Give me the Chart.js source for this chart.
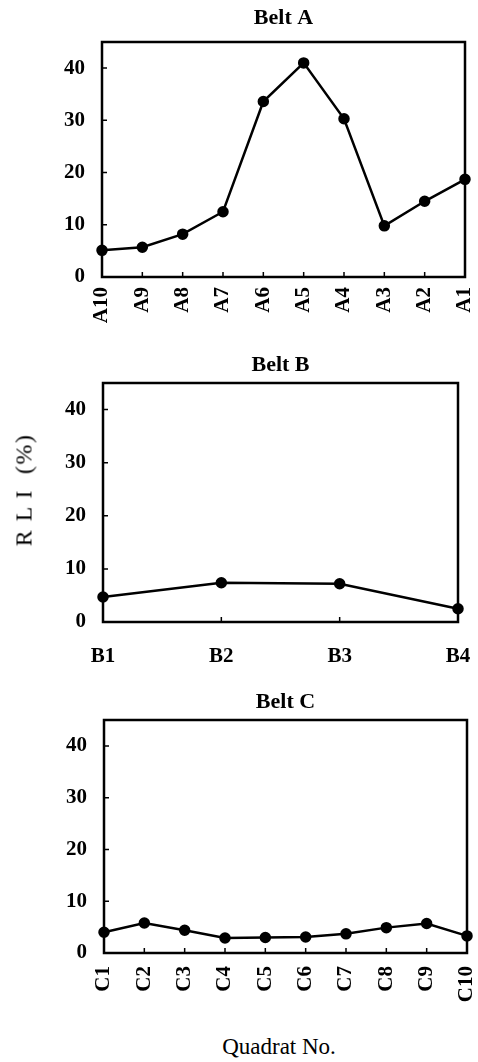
<!DOCTYPE html>
<html>
<head>
<meta charset="utf-8">
<script src="https://cdn.jsdelivr.net/npm/chart.js@4.4.0/dist/chart.umd.min.js"></script>
<style>
    body { margin: 0; background: #fff; width: 478px; height: 1062px; position: relative; overflow: hidden; }
    .panel { position: absolute; left: 0; width: 478px; }
    #yTitle {
        position: absolute; left: 24px; top: 490px;
        transform: translate(-50%, -50%) rotate(-90deg);
        font: 24px "Liberation Serif", serif; letter-spacing: 1.5px; white-space: nowrap; color: #000;
    }
    #xTitle {
        position: absolute; left: 279px; top: 1047px;
        transform: translate(-50%, -50%);
        font: 23px "Liberation Serif", serif; white-space: nowrap; color: #000;
    }
</style>
</head>
<body>
<div class="panel" style="top:0px;height:330px"><canvas id="beltA"></canvas></div>
<div class="panel" style="top:340px;height:330px"><canvas id="beltB"></canvas></div>
<div class="panel" style="top:680px;height:330px"><canvas id="beltC"></canvas></div>
<div id="yTitle">R L I &nbsp;(%)</div>
<div id="xTitle">Quadrat No.</div>
<script>
const beltALabels = ["A10", "A9", "A8", "A7", "A6", "A5", "A4", "A3", "A2", "A1"]
const beltAValues = [5.1, 5.7, 8.2, 12.5, 33.6, 41.0, 30.3, 9.8, 14.5, 18.7]

const beltBLabels = ["B1", "B2", "B3", "B4"]
const beltBValues = [4.7, 7.4, 7.2, 2.5]

const beltCLabels = ["C1", "C2", "C3", "C4", "C5", "C6", "C7", "C8", "C9", "C10"]
const beltCValues = [4.0, 5.8, 4.4, 2.9, 3.0, 3.1, 3.7, 4.9, 5.7, 3.3]

const yTicks = [0, 10, 20, 30, 40]
const serif = "'Liberation Serif', 'Times New Roman', serif"

// panel title, box around the plot area and short inward tick marks
const framePlugin = {
    id: "frame",
    afterDraw: (chart, args, opts) => {
        const ctx = chart.ctx
        const area = chart.chartArea
        const x = chart.scales.x
        const y = chart.scales.y
        ctx.save()
        ctx.strokeStyle = "#000"
        ctx.lineWidth = 1.5
        ctx.beginPath()
        y.ticks.forEach((t) => {
            const py = y.getPixelForValue(t.value)
            ctx.moveTo(area.left, py)
            ctx.lineTo(area.left + 5, py)
        })
        for (let i = 1; i < chart.data.labels.length - 1; i++) {
            const px = x.getPixelForValue(i)
            ctx.moveTo(px, area.bottom)
            ctx.lineTo(px, area.bottom - 5)
        }
        ctx.stroke()
        ctx.lineWidth = 2.5
        ctx.strokeRect(area.left, area.top, area.right - area.left, area.bottom - area.top)

        ctx.fillStyle = "#000"
        ctx.font = "bold 22px " + serif
        ctx.textAlign = "center"
        ctx.textBaseline = "middle"
        ctx.fillText(opts.text, (area.left + area.right) / 2, opts.y)
        ctx.restore()
    }
}

const createBeltChart = (canvasId, title, labels, values, box) => {
    const canvas = document.getElementById(canvasId)
    canvas.width = 478
    canvas.height = 330
    const ctx = canvas.getContext("2d")

    const config = {
        type: "line",
        data: {
            labels: labels,
            datasets: [{
                label: title,
                data: values,
                borderColor: "#000",
                backgroundColor: "#000",
                borderWidth: 2.5,
                pointRadius: 4.5,
                pointBackgroundColor: "#000",
                tension: 0
            }]
        },
        options: {
            responsive: false,
            animation: false,
            layout: {
                padding: { left: 0, right: 478 - box.right, top: box.top, bottom: 0 }
            },
            plugins: {
                legend: { display: false },
                tooltip: { enabled: false },
                title: { display: false },
                frame: { text: title, y: box.titleY }
            },
            scales: {
                x: {
                    offset: false,
                    grid: { display: false, drawTicks: false },
                    border: { display: false },
                    ticks: {
                        color: "#000",
                        padding: box.labelPad,
                        autoSkip: false,
                        minRotation: box.rotate,
                        maxRotation: box.rotate,
                        font: { family: serif, size: 21, weight: "bold" }
                    },
                    afterFit: (scale) => {
                        scale.height = 330 - box.bottom
                        scale.paddingLeft = 0
                        scale.paddingRight = 0
                    }
                },
                y: {
                    min: 0,
                    max: 45,
                    grid: { display: false, drawTicks: false },
                    border: { display: false },
                    ticks: {
                        color: "#000",
                        padding: 17,
                        stepSize: 10,
                        font: { family: serif, size: 21, weight: "bold" }
                    },
                    afterBuildTicks: (scale) => {
                        scale.ticks = yTicks.map((v) => ({ value: v }))
                    },
                    afterFit: (scale) => {
                        scale.width = box.left
                        scale.paddingTop = 0
                        scale.paddingBottom = 0
                    }
                }
            }
        },
        plugins: [framePlugin]
    }

    return new Chart(ctx, config)
}

createBeltChart("beltA", "Belt A", beltALabels, beltAValues,
    { left: 102, right: 465, top: 42, bottom: 277, titleY: 18, rotate: 90, labelPad: 10 })
createBeltChart("beltB", "Belt B", beltBLabels, beltBValues,
    { left: 103, right: 458, top: 43, bottom: 282, titleY: 25, rotate: 0, labelPad: 22 })
createBeltChart("beltC", "Belt C", beltCLabels, beltCValues,
    { left: 104, right: 467, top: 40, bottom: 273, titleY: 22, rotate: 90, labelPad: 13 })
</script>
</body>
</html>
